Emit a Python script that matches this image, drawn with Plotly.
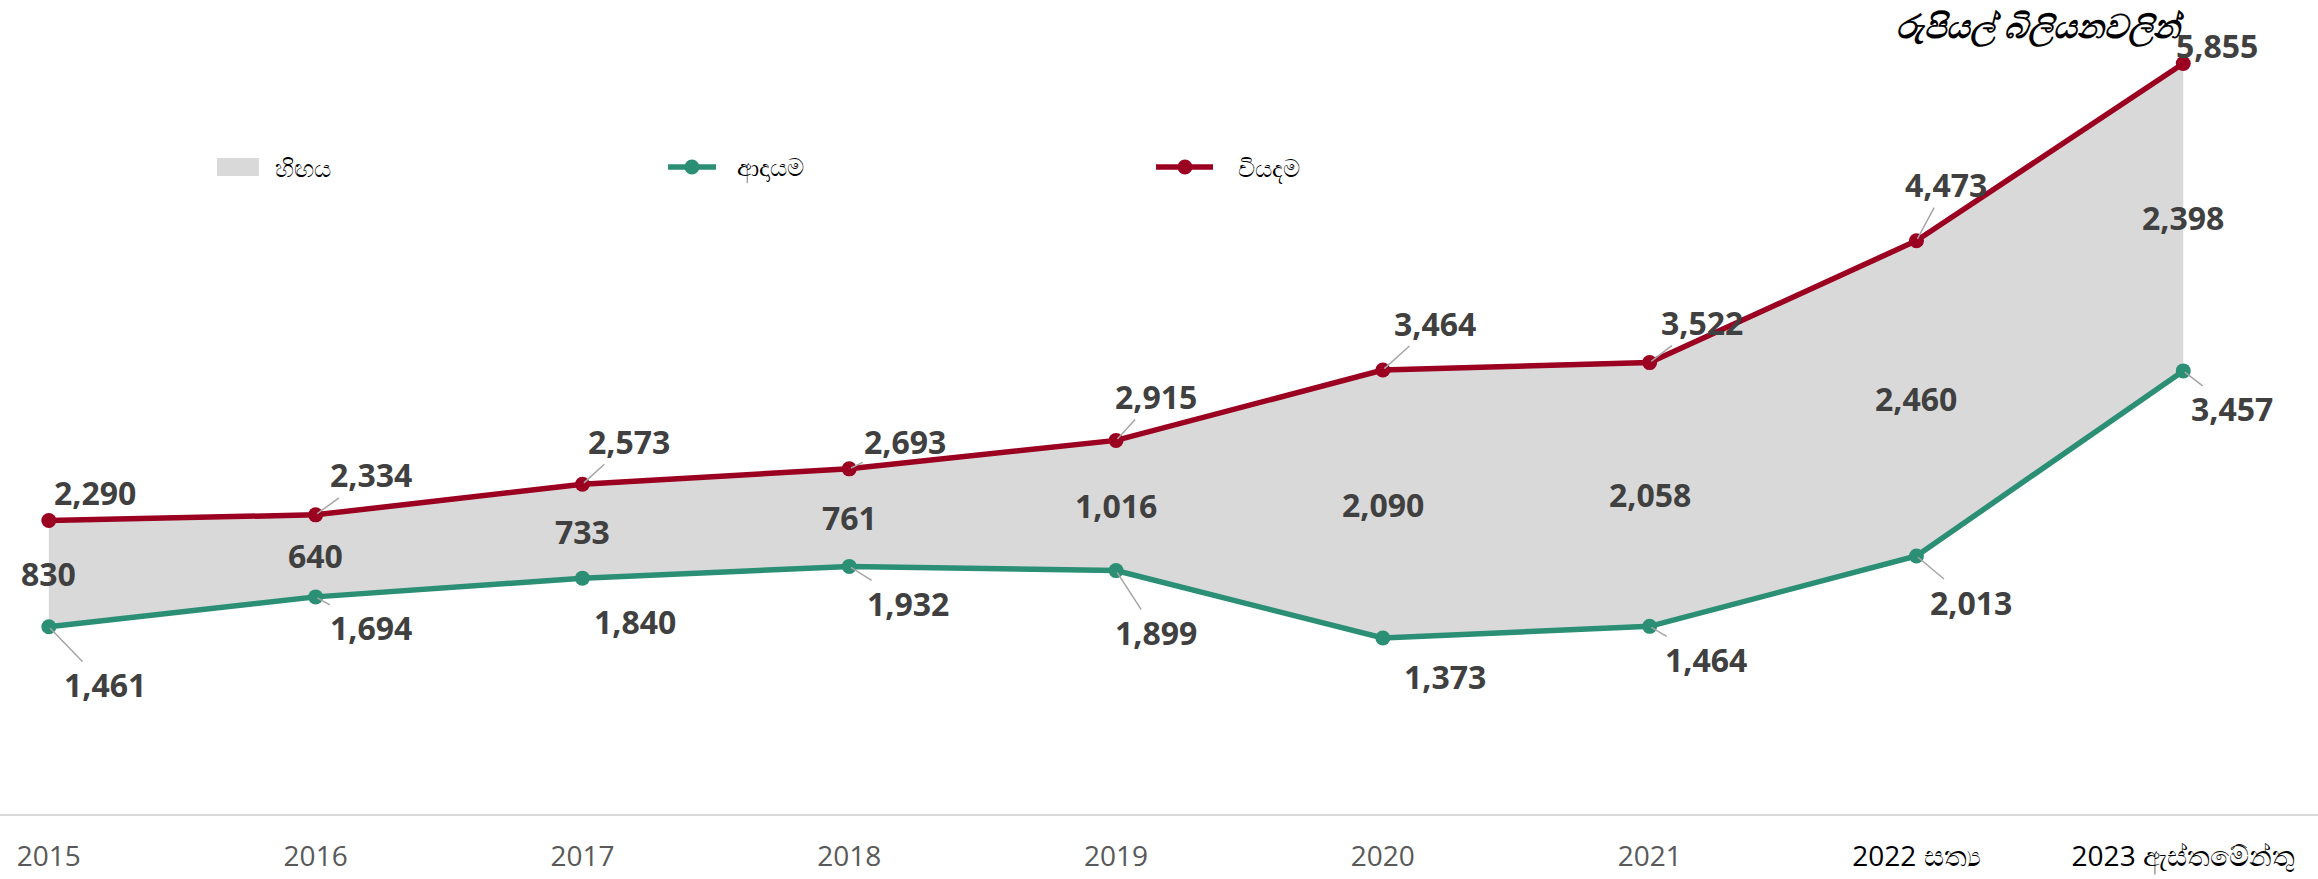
import plotly.graph_objects as go

# ---- data ----
years = ["2015", "2016", "2017", "2018", "2019", "2020", "2021", "2022 සත්‍ය", "2023 ඇස්තමේන්තු"]
revenue = [1461, 1694, 1840, 1932, 1899, 1373, 1464, 2013, 3457]
expenditure = [2290, 2334, 2573, 2693, 2915, 3464, 3522, 4473, 5855]
deficit = [830, 640, 733, 761, 1016, 2090, 2058, 2460, 2398]
series_names = ["හිඟය", "ආදායම", "වියදම"]
unit_title = "රුපියල් බිලියනවලින්"

# ---- label offsets (pixels) ----
exp_dx = [46, 55, 47, 56, 40, 52, 52, 30, 34]
exp_dy = [-28, -40, -43, -27, -44, -47, -40, -56, -18]
exp_leader = [False, True, True, True, True, True, True, True, False]
rev_dx = [56, 55, 53, 59, 40, 62, 56, 55, 49]
rev_dy = [58, 31, 43, 37, 62, 38, 33, 46, 38]
rev_leader = [True, True, False, True, True, False, True, True, True]

RED = "#9B0020"
GREEN = "#2A8F74"
GAP = "#D9D9D9"
LABEL = "#404040"
LEADER = "#A6A6A6"
FONT = "Open Sans"

x = list(range(len(years)))

fig = go.Figure()
fig.add_trace(go.Scatter(x=x, y=revenue, mode="lines", line=dict(width=0),
                         showlegend=False, hoverinfo="skip"))
fig.add_trace(go.Scatter(x=x, y=expenditure, mode="lines", line=dict(width=0),
                         fill="tonexty", fillcolor=GAP, name=series_names[0], showlegend=False))
fig.add_trace(go.Scatter(x=x, y=revenue, mode="lines+markers",
                         line=dict(color=GREEN, width=5.5),
                         marker=dict(size=15, color=GREEN), name=series_names[1], showlegend=False))
fig.add_trace(go.Scatter(x=x, y=expenditure, mode="lines+markers",
                         line=dict(color=RED, width=5.5),
                         marker=dict(size=15, color=RED), name=series_names[2], showlegend=False))

ann = []
lab_font = dict(family=FONT, size=32, color=LABEL, weight="bold")
for i in x:
    ann.append(dict(x=i, y=expenditure[i], text=f"{expenditure[i]:,}", font=lab_font,
                    showarrow=True, arrowhead=0, arrowwidth=1.5,
                    arrowcolor=LEADER if exp_leader[i] else "rgba(0,0,0,0)",
                    ax=exp_dx[i], ay=exp_dy[i], axref="pixel", ayref="pixel", standoff=2))
    ann.append(dict(x=i, y=revenue[i], text=f"{revenue[i]:,}", font=lab_font,
                    showarrow=True, arrowhead=0, arrowwidth=1.5,
                    arrowcolor=LEADER if rev_leader[i] else "rgba(0,0,0,0)",
                    ax=rev_dx[i], ay=rev_dy[i], axref="pixel", ayref="pixel", standoff=2))
    ann.append(dict(x=i, y=revenue[i] + (expenditure[i] - revenue[i]) / 2,
                    text=f"{deficit[i]:,}", font=lab_font, showarrow=False))

# unit title
ann.append(dict(xref="paper", yref="paper", x=0.880, y=0.969, xanchor="center", yanchor="middle",
                text=f"<b><i>{unit_title}</i></b>",
                font=dict(family=FONT, size=33, color="black"), showarrow=False))

# ---- manual legend ----
leg_y = 0.7948
leg_font = dict(family=FONT, size=24, color="black")
shapes = [
    dict(type="rect", xref="paper", yref="paper", x0=0.0936, x1=0.1117, y0=0.7838, y1=0.8059,
         fillcolor=GAP, line=dict(width=0)),
    dict(type="line", xref="paper", yref="paper", x0=0.2882, x1=0.3089, y0=leg_y, y1=leg_y,
         line=dict(color=GREEN, width=5.5)),
    dict(type="circle", xref="paper", yref="paper", xsizemode="pixel", ysizemode="pixel",
         xanchor=0.2985, yanchor=leg_y, x0=-7.5, x1=7.5, y0=-7.5, y1=7.5,
         fillcolor=GREEN, line=dict(width=0)),
    dict(type="line", xref="paper", yref="paper", x0=0.4987, x1=0.5233, y0=leg_y, y1=leg_y,
         line=dict(color=RED, width=5.5)),
    dict(type="circle", xref="paper", yref="paper", xsizemode="pixel", ysizemode="pixel",
         xanchor=0.5112, yanchor=leg_y, x0=-7.5, x1=7.5, y0=-7.5, y1=7.5,
         fillcolor=RED, line=dict(width=0)),
]
for xt, name in zip([0.1178, 0.3171, 0.5332], series_names):
    ann.append(dict(xref="paper", yref="paper", x=xt, y=leg_y, xanchor="left", yanchor="middle",
                    text=name, font=leg_font, showarrow=False))

ticktext = []
for i, t in enumerate(years):
    if i >= 7:
        ticktext.append(f"<span style='color:black'>{t}</span>")
    else:
        ticktext.append(t)

fig.update_layout(
    width=2318, height=879,
    margin=dict(l=0, r=0, t=0, b=65),
    paper_bgcolor="white", plot_bgcolor="white",
    annotations=ann,
    shapes=shapes,
    showlegend=False,
    xaxis=dict(range=[-0.183, 8.505], tickvals=x, ticktext=ticktext,
               showgrid=False, zeroline=False, showline=True, linecolor=GAP, linewidth=2,
               ticks="", ticklabelstandoff=16,
               tickfont=dict(family=FONT, size=28, color="#595959")),
    yaxis=dict(range=[0, 6351], visible=False, showgrid=False, zeroline=False),
)

fig.write_html("out.html", config={"displayModeBar": False},
               post_script="document.body.style.margin='0';document.body.style.overflow='hidden';")
